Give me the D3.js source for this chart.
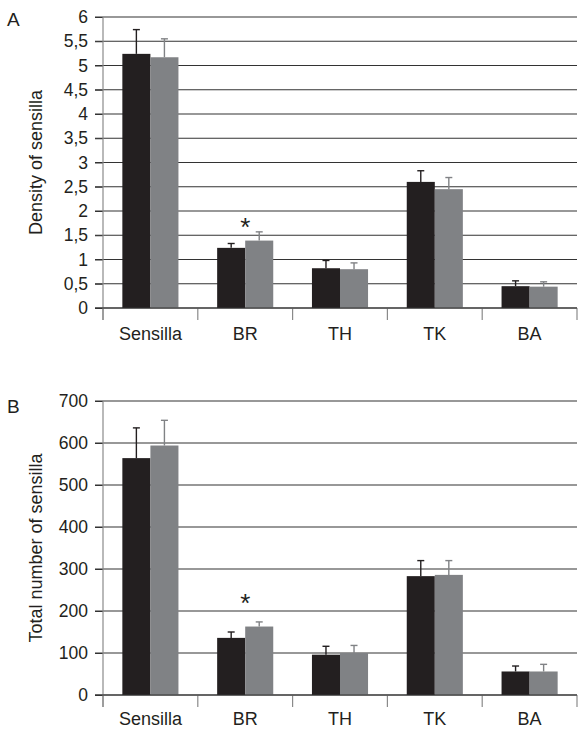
<!DOCTYPE html>
<html>
<head>
<meta charset="utf-8">
<script src="https://cdn.jsdelivr.net/npm/d3@7"></script>
<style>
  html, body { margin: 0; padding: 0; background: #fff; }
  svg { display: block; font-family: "Liberation Sans", Arial, sans-serif; }
</style>
</head>
<body>
<svg id="chart" width="582" height="729"></svg>
<script>
const categories = ["Sensilla", "BR", "TH", "TK", "BA"];

const densityBlack    = [5.24, 1.24, 0.82, 2.60, 0.45];
const densityBlackErr = [0.50, 0.09, 0.16, 0.23, 0.11];
const densityGray     = [5.17, 1.39, 0.80, 2.45, 0.44];
const densityGrayErr  = [0.38, 0.18, 0.13, 0.24, 0.10];
const densityTicks    = [0, 0.5, 1, 1.5, 2, 2.5, 3, 3.5, 4, 4.5, 5, 5.5, 6];

const totalBlack    = [564, 136, 96, 283, 56];
const totalBlackErr = [72, 14, 20, 37, 13];
const totalGray     = [594, 163, 100, 286, 56];
const totalGrayErr  = [60, 11, 18, 34, 17];
const totalTicks    = [0, 100, 200, 300, 400, 500, 600, 700];

const sigCategory = "BR";
const densitySig = 1.8;
const totalSig = 234;

const colors = { black: "#231f20", gray: "#808285" };

const svg = d3.select("#chart");
const fmtComma = d => String(d).replace(".", ",");

function panel(cfg) {
  const g = svg.append("g");
  const x = d3.scaleBand().domain(categories).range([cfg.left, cfg.right]);
  const inner = d3.scaleBand().domain(["black", "gray"])
    .range([0, x.bandwidth()]).paddingOuter(0.69).paddingInner(0);
  const y = d3.scaleLinear().domain([0, cfg.max]).range([cfg.bottom, cfg.top]);

  // gridlines
  g.append("g").selectAll("line").data(cfg.ticks).join("line")
    .attr("x1", cfg.left - 8).attr("x2", cfg.right)
    .attr("y1", d => y(d)).attr("y2", d => y(d))
    .attr("stroke", "#333").attr("stroke-width", 1.1);

  // y axis
  const ya = g.append("g").attr("transform", `translate(${cfg.left},0)`)
    .call(d3.axisLeft(y).tickValues(cfg.ticks).tickFormat(cfg.fmt).tickSize(8).tickPadding(7));
  ya.select(".domain").remove();
  ya.selectAll(".tick line").attr("stroke", "#333");
  ya.selectAll("text").attr("font-size", 17.5).attr("fill", "#231f20")
    .attr("font-family", "Liberation Sans, Arial, sans-serif");

  // vertical axis line
  g.append("line").attr("x1", cfg.left).attr("x2", cfg.left)
    .attr("y1", cfg.top).attr("y2", cfg.bottom + 12)
    .attr("stroke", "#8a8a8a").attr("stroke-width", 1.2);

  // category ticks
  const bounds = categories.map(c => x(c) + x.bandwidth()).concat([cfg.left]);
  g.append("g").selectAll("line").data(bounds).join("line")
    .attr("x1", d => d).attr("x2", d => d)
    .attr("y1", cfg.bottom).attr("y2", cfg.bottom + 12)
    .attr("stroke", "#8a8a8a").attr("stroke-width", 1.2);

  // bars
  const series = [
    { key: "black", vals: cfg.black, errs: cfg.blackErr, color: colors.black },
    { key: "gray", vals: cfg.gray, errs: cfg.grayErr, color: colors.gray }
  ];
  series.forEach(s => {
    const sg = g.append("g");
    const data = categories.map((c, i) => ({ c, v: s.vals[i], e: s.errs[i] }));
    sg.selectAll("rect").data(data).join("rect")
      .attr("x", d => x(d.c) + inner(s.key))
      .attr("width", inner.bandwidth())
      .attr("y", d => y(d.v))
      .attr("height", d => y(0) - y(d.v))
      .attr("fill", s.color);
    sg.selectAll("line.err").data(data).join("line").attr("class", "err")
      .attr("x1", d => x(d.c) + inner(s.key) + inner.bandwidth() / 2)
      .attr("x2", d => x(d.c) + inner(s.key) + inner.bandwidth() / 2)
      .attr("y1", d => y(d.v)).attr("y2", d => y(d.v + d.e))
      .attr("stroke", s.color).attr("stroke-width", 1.4);
    sg.selectAll("line.cap").data(data).join("line").attr("class", "cap")
      .attr("x1", d => x(d.c) + inner(s.key) + inner.bandwidth() / 2 - 3.5)
      .attr("x2", d => x(d.c) + inner(s.key) + inner.bandwidth() / 2 + 3.5)
      .attr("y1", d => y(d.v + d.e)).attr("y2", d => y(d.v + d.e))
      .attr("stroke", s.color).attr("stroke-width", 1.4);
  });

  // baseline
  g.append("line").attr("x1", cfg.left - 8).attr("x2", cfg.right)
    .attr("y1", y(0)).attr("y2", y(0)).attr("stroke", "#333").attr("stroke-width", 1.1);

  // category labels
  g.append("g").selectAll("text").data(categories).join("text")
    .attr("x", d => x(d) + x.bandwidth() / 2)
    .attr("y", cfg.bottom + cfg.labelOffset)
    .attr("text-anchor", "middle").attr("font-size", 18).attr("fill", "#231f20")
    .text(d => d);

  // significance star
  g.append("text")
    .attr("x", x(sigCategory) + inner("gray"))
    .attr("y", y(cfg.sig) + 15)
    .attr("text-anchor", "middle").attr("font-size", 26).attr("fill", "#231f20")
    .text("*");

  // y title
  g.append("text")
    .attr("transform", `translate(${cfg.titleX},${(cfg.top + cfg.bottom) / 2}) rotate(-90)`)
    .attr("text-anchor", "middle").attr("font-size", 18).attr("fill", "#231f20")
    .text(cfg.title);

  // panel letter
  g.append("text").attr("x", 7).attr("y", cfg.letterY)
    .attr("font-size", 19).attr("fill", "#231f20").text(cfg.letter);
}

panel({
  left: 103, right: 577, top: 17, bottom: 308, max: 6,
  ticks: densityTicks, fmt: fmtComma,
  black: densityBlack, blackErr: densityBlackErr,
  gray: densityGray, grayErr: densityGrayErr,
  sig: densitySig, title: "Density of sensilla", titleX: 42,
  letter: "A", letterY: 26, labelOffset: 32
});

panel({
  left: 103, right: 577, top: 401, bottom: 695, max: 700,
  ticks: totalTicks, fmt: d => String(d),
  black: totalBlack, blackErr: totalBlackErr,
  gray: totalGray, grayErr: totalGrayErr,
  sig: totalSig, title: "Total number of sensilla", titleX: 42,
  letter: "B", letterY: 413, labelOffset: 29.5
});
</script>
</body>
</html>
